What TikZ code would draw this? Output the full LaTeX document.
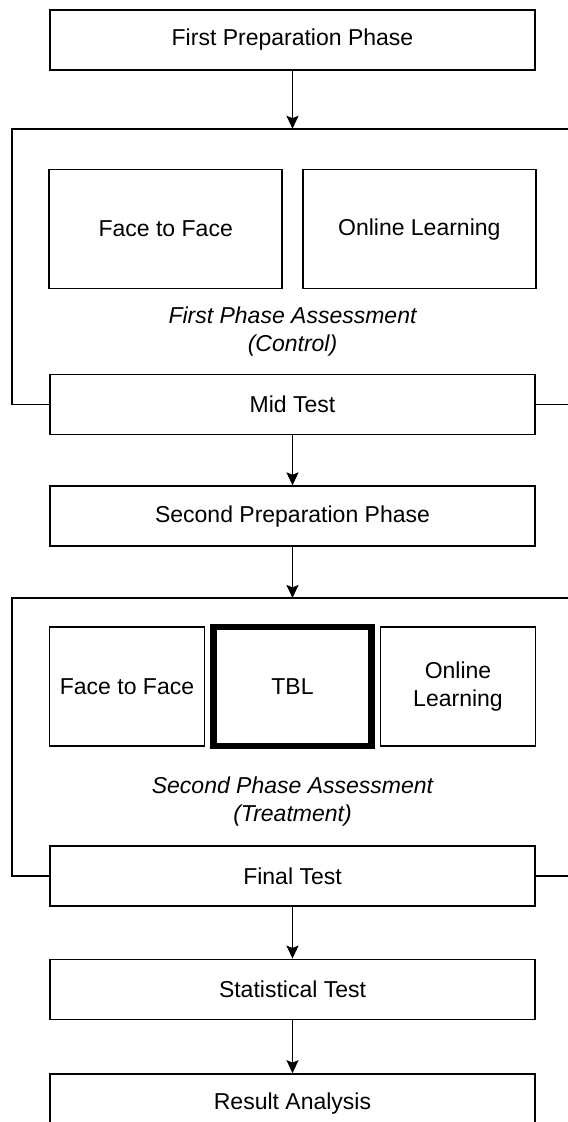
\documentclass[tikz,border=0pt]{standalone}
\usepackage{fontspec}
\setmainfont{Liberation Sans}
\usetikzlibrary{arrows.meta,positioning,calc,backgrounds}
\tikzset{
  box/.style={draw=black, line width=0.8pt, fill=white, align=center, inner sep=4pt, font=\fontsize{11.5}{14}\selectfont, minimum width=242.5pt, minimum height=30pt},
  subbox/.style={box, minimum width=116.5pt, minimum height=59.5pt},
  narrowbox/.style={subbox, minimum width=77.5pt},
  boldbox/.style={narrowbox, line width=3.25pt, outer sep=0pt, minimum width=79pt},
  phasenote/.style={align=center, inner sep=0pt, font=\fontsize{11.5}{14}\selectfont\itshape},
  frame/.style={draw=black, line width=0.8pt},
  arrow/.style={-{Stealth[length=6.5pt,width=6pt,inset=1.2pt]}, line width=0.8pt, draw=black}
}

\begin{document}
\begin{tikzpicture}[node distance=26pt]
\useasboundingbox (0,0) rectangle (283.5pt,-561pt);
\clip (0,0) rectangle (283.5pt,-561pt);
% control phase
\node[box] (prep1) at (146.25pt,-20pt) {First Preparation Phase};
\coordinate[below=29pt of prep1] (top1);
\node[subbox, below left=20pt and 4.75pt of top1] (f2f1) {Face to Face};
\node[subbox, below right=20pt and 4.75pt of top1] (online1) {Online Learning};
\node[phasenote] (assess1) at ($(f2f1.south -| top1)+(0,-21pt)$) {First Phase Assessment\\(Control)};
\node[box, below=122.5pt of top1] (mid) {Mid Test};
\draw[arrow] (prep1)--(top1);
% treatment phase
\node[box, below=25pt of mid] (prep2) {Second Preparation Phase};
\coordinate[below=25.5pt of prep2] (top2);
\node[boldbox, below=14.5pt of top2] (tbl) {TBL};
\node[narrowbox, left=4.1pt of tbl] (f2f2) {Face to Face};
\node[narrowbox, right=4.1pt of tbl] (online2) {Online\\Learning};
\node[phasenote] (assess2) at ($(tbl.south)+(0,-28pt)$) {Second Phase Assessment\\(Treatment)};
\node[box, below=49.5pt of tbl] (final) {Final Test};
\draw[arrow] (mid)--(prep2); \draw[arrow] (prep2)--(top2);
% analysis
\node[box, below=26pt of final] (stat) {Statistical Test};
\node[box, below=26.5pt of stat] (result) {Result Analysis};
\draw[arrow] (final)--(stat); \draw[arrow] (stat)--(result);
\begin{scope}[on background layer]
\draw[frame] ([xshift=-140.25pt]top1) rectangle ([xshift=30pt]mid.east);
\draw[frame] ([xshift=-140.25pt]top2) rectangle ([xshift=30pt]final.east);
\end{scope}
\end{tikzpicture}
\end{document}
